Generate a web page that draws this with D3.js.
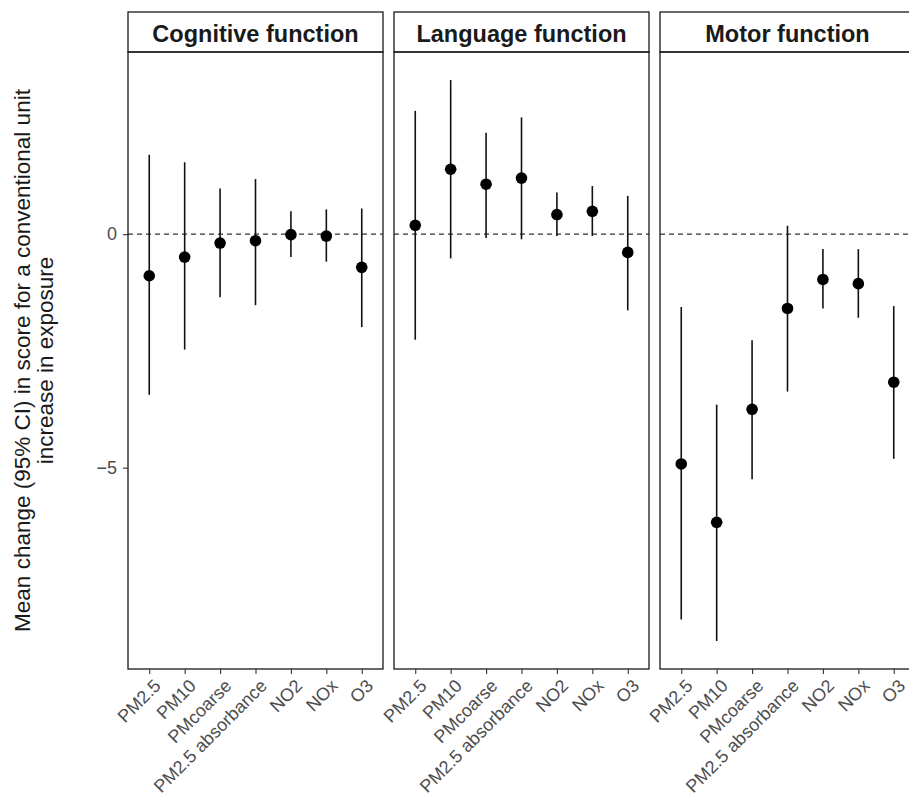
<!DOCTYPE html>
<html>
<head>
<meta charset="utf-8">
<script src="https://cdn.jsdelivr.net/npm/d3@7"></script>
<style>
  body { margin: 0; background: #fff; }
  text { font-family: "Liberation Sans", Arial, sans-serif; }
</style>
</head>
<body>
<svg id="chart"></svg>
<script>
// data
var outcomes = ["Cognitive function", "Language function", "Motor function"];
var pollutants = ["PM2.5", "PM10", "PMcoarse", "PM2.5 absorbance", "NO2", "NOx", "O3"];

var cognitiveEst  = [-0.89, -0.49, -0.19, -0.14, -0.01, -0.04, -0.71];
var cognitiveLow  = [-3.44, -2.47, -1.35, -1.52, -0.49, -0.59, -1.99];
var cognitiveHigh = [ 1.70,  1.54,  0.98,  1.18,  0.49,  0.53,  0.55];

var languageEst  = [ 0.19,  1.39,  1.07,  1.20,  0.42,  0.49, -0.39];
var languageLow  = [-2.26, -0.52, -0.08, -0.11, -0.04, -0.04, -1.63];
var languageHigh = [ 2.64,  3.30,  2.17,  2.50,  0.89,  1.03,  0.82];

var motorEst  = [-4.92, -6.17, -3.75, -1.59, -0.97, -1.06, -3.17];
var motorLow  = [-8.25, -8.71, -5.25, -3.37, -1.59, -1.79, -4.81];
var motorHigh = [-1.56, -3.65, -2.27,  0.18, -0.32, -0.32, -1.54];

var yTicks = [-5, 0];
var yTitle = ["Mean change (95% CI) in score for a conventional unit", "increase in exposure"];

// build one row per outcome/pollutant
var estimates = [cognitiveEst, languageEst, motorEst];
var lows = [cognitiveLow, languageLow, motorLow];
var highs = [cognitiveHigh, languageHigh, motorHigh];
var rows = [];
outcomes.forEach(function(o, i) {
	pollutants.forEach(function(p, j) {
		rows.push({outcome: o, pollutant: p, est: estimates[i][j], lo: lows[i][j], hi: highs[i][j]});
	});
});

var width = 909,
		height = 806;

var panelLeft = 128,
		panelWidth = 255,
		panelGap = 11,
		panelTop = 52,
		panelBottom = 669,
		stripTop = 12;

var svg = d3.select("#chart")
	.attr("width", width)
	.attr("height", height);

svg.append("rect")
	.attr("width", width)
	.attr("height", height)
	.attr("fill", "#fff");

// y scale shared by all panels, 5% padding like ggplot
var yMin = d3.min(rows, function(d) { return d.lo; }),
		yMax = d3.max(rows, function(d) { return d.hi; }),
		pad = (yMax - yMin) * 0.05;

var y = d3.scaleLinear()
	.domain([yMin - pad, yMax + pad])
	.range([panelBottom, panelTop]);

var x = d3.scalePoint()
	.domain(pollutants)
	.range([0, panelWidth])
	.padding(0.6);

// y axis on the first panel only
var yAxis = svg.append("g")
	.attr("transform", "translate(" + panelLeft + ",0)")
	.call(d3.axisLeft(y).tickValues(yTicks).tickSize(5).tickPadding(6).tickFormat(d3.format("d")));
yAxis.select(".domain").remove();
yAxis.selectAll("line").attr("stroke", "#333").attr("stroke-width", 1.1);
yAxis.selectAll("text")
	.attr("fill", "#4d4d4d")
	.style("font-size", "18px");

var title = svg.append("text")
	.attr("transform", "translate(30," + ((panelTop + panelBottom) / 2) + ") rotate(-90)")
	.attr("text-anchor", "middle")
	.attr("fill", "#1a1a1a")
	.style("font-size", "22.5px");
title.selectAll("tspan")
	.data(yTitle)
	.enter().append("tspan")
	.attr("x", 0)
	.attr("dy", function(d, i) { return i == 0 ? 0 : "1.02em"; })
	.text(function(d) { return d; });

outcomes.forEach(function(o, i) {
	var left = panelLeft + i * (panelWidth + panelGap);
	var g = svg.append("g").attr("transform", "translate(" + left + ",0)");
	var data = rows.filter(function(d) { return d.outcome == o; });

	// strip
	g.append("rect")
		.attr("x", 0)
		.attr("y", stripTop)
		.attr("width", panelWidth)
		.attr("height", panelTop - stripTop)
		.attr("fill", "#fff")
		.attr("stroke", "#1a1a1a")
		.attr("stroke-width", 1.3);

	g.append("text")
		.attr("x", panelWidth / 2)
		.attr("y", 42)
		.attr("text-anchor", "middle")
		.attr("font-weight", "bold")
		.attr("fill", "#1a1a1a")
		.style("font-size", "23.5px")
		.text(o);

	// zero reference
	g.append("line")
		.attr("x1", 0)
		.attr("x2", panelWidth)
		.attr("y1", y(0))
		.attr("y2", y(0))
		.attr("stroke", "#333")
		.attr("stroke-width", 1.2)
		.attr("stroke-dasharray", "5,4");

	// confidence intervals
	g.selectAll(".ci")
		.data(data)
		.enter().append("line")
		.attr("class", "ci")
		.attr("x1", function(d) { return x(d.pollutant); })
		.attr("x2", function(d) { return x(d.pollutant); })
		.attr("y1", function(d) { return y(d.lo); })
		.attr("y2", function(d) { return y(d.hi); })
		.attr("stroke", "#111")
		.attr("stroke-width", 1.6);

	g.selectAll(".pt")
		.data(data)
		.enter().append("circle")
		.attr("class", "pt")
		.attr("cx", function(d) { return x(d.pollutant); })
		.attr("cy", function(d) { return y(d.est); })
		.attr("r", 5.8)
		.attr("fill", "#000");

	// panel border
	g.append("rect")
		.attr("x", 0)
		.attr("y", panelTop)
		.attr("width", panelWidth)
		.attr("height", panelBottom - panelTop)
		.attr("fill", "none")
		.attr("stroke", "#1a1a1a")
		.attr("stroke-width", 1.3);

	// x axis, rotated labels
	var xAxis = g.append("g")
		.attr("transform", "translate(0," + panelBottom + ")")
		.call(d3.axisBottom(x).tickSize(5));
	xAxis.select(".domain").remove();
	xAxis.selectAll("line").attr("stroke", "#333").attr("stroke-width", 1.1);
	xAxis.selectAll("text")
		.attr("fill", "#4d4d4d")
		.attr("text-anchor", "end")
		.attr("transform", "translate(12,18) rotate(-45)")
		.attr("y", 0)
		.attr("dy", 0)
		.style("font-size", "18px");
});
</script>
</body>
</html>
